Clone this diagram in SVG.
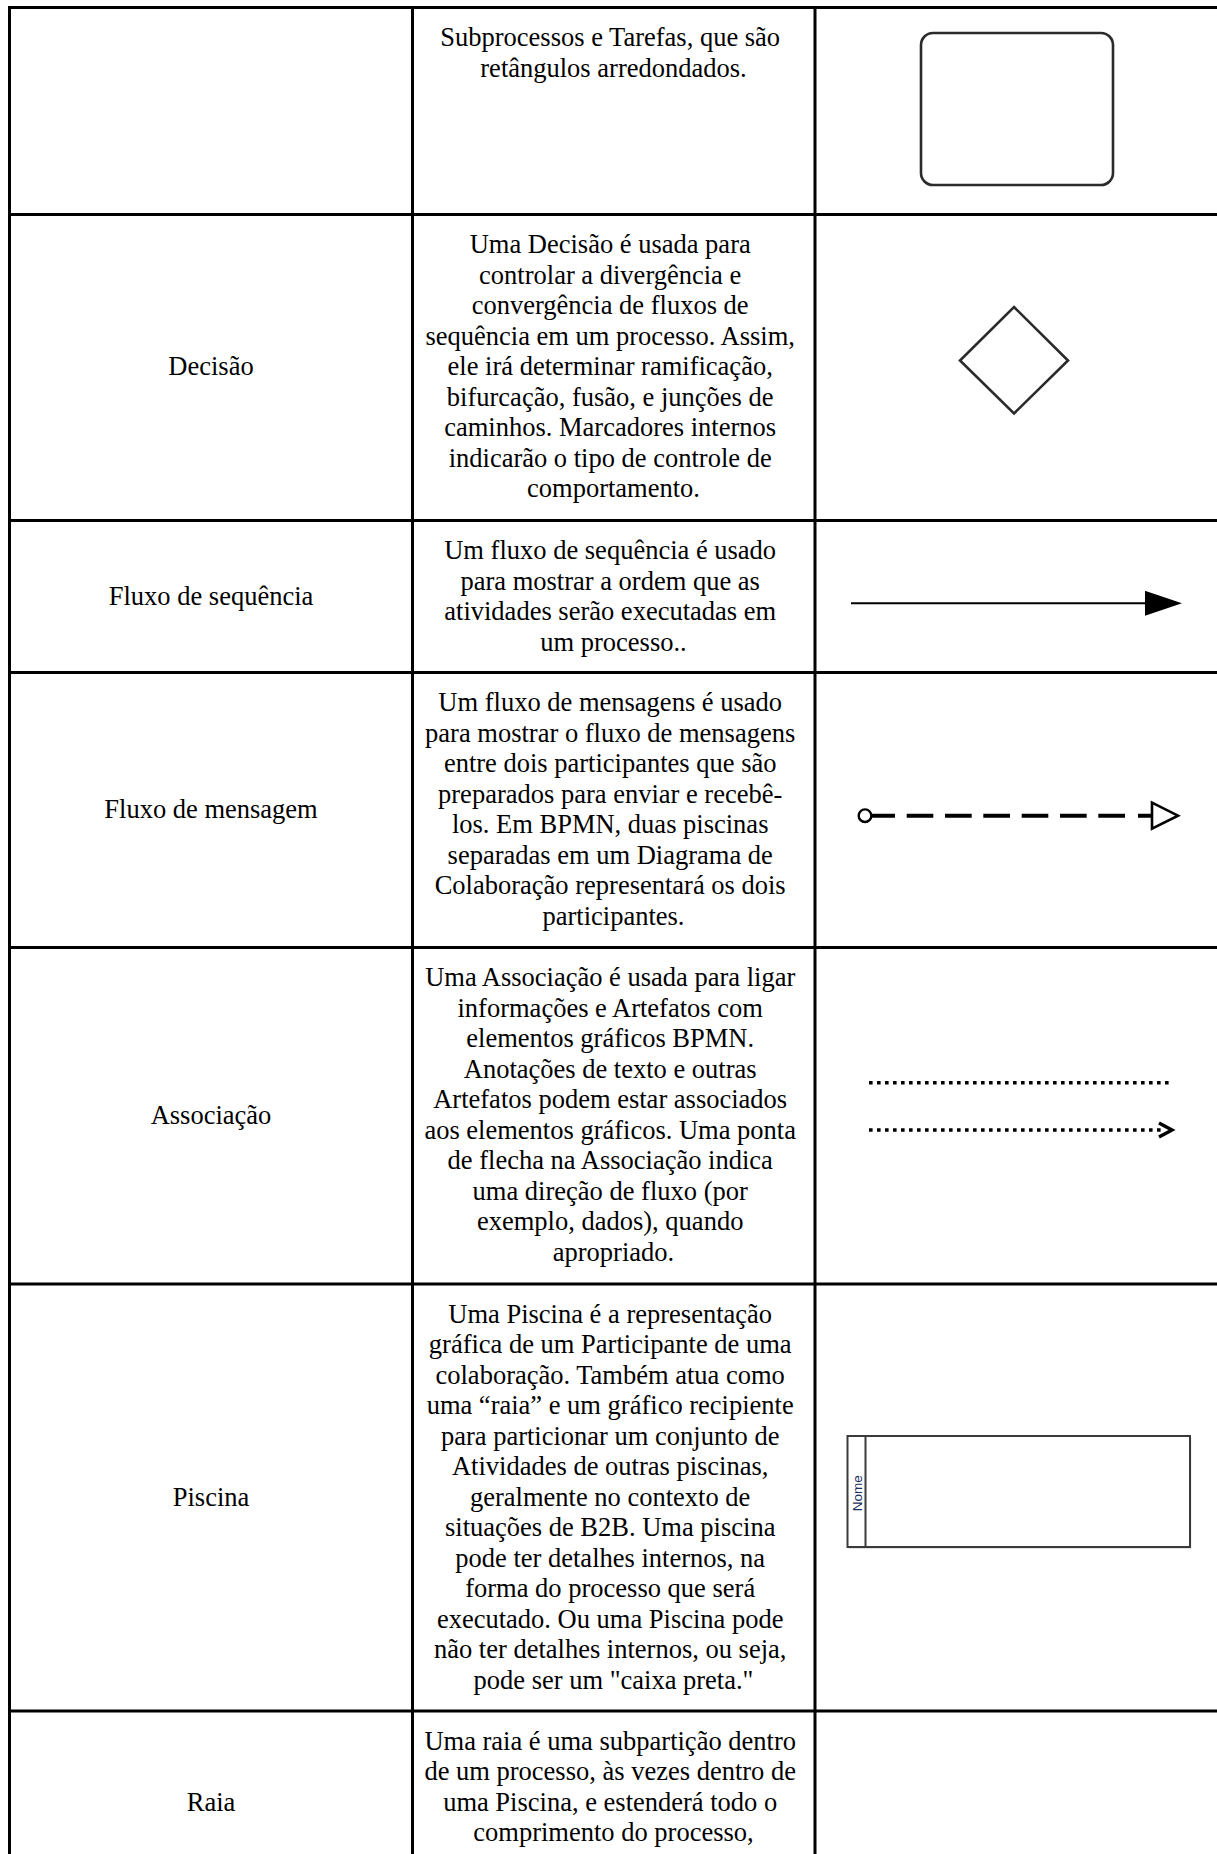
<svg xmlns="http://www.w3.org/2000/svg" width="1217" height="1854" viewBox="0 0 1217 1854">
  <style>
    .grid { stroke: #000; stroke-width: 3; fill: none; }
    .txt { font-family: "Liberation Serif", "Times New Roman", serif; font-size: 26.5px; fill: #000; text-anchor: middle; }
    .shape { fill: #fff; stroke: #2b2b2b; stroke-width: 2.6; }
    .ink { stroke: #000; fill: none; }
  </style>
  <defs>
    <marker id="seqHead" viewBox="0 0 37 25" refX="0" refY="12.5" markerWidth="37" markerHeight="25" markerUnits="userSpaceOnUse" orient="auto">
      <path d="M0 0 L37 12.5 L0 25 Z" fill="#000"/>
    </marker>
  </defs>
  <rect width="1217" height="1854" fill="#fff"/>

  <!-- table grid -->
  <g id="table-grid" class="grid">
    <line x1="8" y1="7.5" x2="1217" y2="7.5"/>
    <line x1="8" y1="214.5" x2="1217" y2="214.5"/>
    <line x1="8" y1="520.5" x2="1217" y2="520.5"/>
    <line x1="8" y1="672.5" x2="1217" y2="672.5"/>
    <line x1="8" y1="947.5" x2="1217" y2="947.5"/>
    <line x1="8" y1="1284" x2="1217" y2="1284"/>
    <line x1="8" y1="1711" x2="1217" y2="1711"/>
    <line x1="9.5" y1="6" x2="9.5" y2="1854"/>
    <line x1="412.5" y1="6" x2="412.5" y2="1854"/>
    <line x1="815" y1="6" x2="815" y2="1854"/>
  </g>

  <!-- row: task / subprocess -->
  <g id="row-tarefa">
    <text class="txt">
      <tspan x="613.5" y="46">Subprocessos e Tarefas, que são</tspan>
      <tspan x="613.5" y="76.5">retângulos arredondados.</tspan>
    </text>
    <rect class="shape" x="921" y="33" width="192" height="152" rx="12" ry="12"/>
  </g>

  <!-- row: gateway -->
  <g id="row-decisao">
    <text class="txt" x="211" y="375.3">Decisão</text>
    <text class="txt">
      <tspan x="613.5" y="253.3">Uma Decisão é usada para</tspan>
      <tspan x="613.5" y="283.8">controlar a divergência e</tspan>
      <tspan x="613.5" y="314.3">convergência de fluxos de</tspan>
      <tspan x="613.5" y="344.8">sequência em um processo. Assim,</tspan>
      <tspan x="613.5" y="375.3">ele irá determinar ramificação,</tspan>
      <tspan x="613.5" y="405.8">bifurcação, fusão, e junções de</tspan>
      <tspan x="613.5" y="436.3">caminhos. Marcadores internos</tspan>
      <tspan x="613.5" y="466.8">indicarão o tipo de controle de</tspan>
      <tspan x="613.5" y="497.3">comportamento.</tspan>
    </text>
    <path class="shape" fill="none" d="M1014 307 L1068 360.5 L1014 413.5 L960 360.5 Z" stroke-width="2.2"/>
  </g>

  <!-- row: sequence flow -->
  <g id="row-fluxo-sequencia">
    <text class="txt" x="211" y="605">Fluxo de sequência</text>
    <text class="txt">
      <tspan x="613.5" y="559.3">Um fluxo de sequência é usado</tspan>
      <tspan x="613.5" y="589.8">para mostrar a ordem que as</tspan>
      <tspan x="613.5" y="620.3">atividades serão executadas em</tspan>
      <tspan x="613.5" y="650.8">um processo..</tspan>
    </text>
    <line class="ink" x1="851" y1="603.3" x2="1145" y2="603.3" stroke-width="2" marker-end="url(#seqHead)"/>
  </g>

  <!-- row: message flow -->
  <g id="row-fluxo-mensagem">
    <text class="txt" x="211" y="818">Fluxo de mensagem</text>
    <text class="txt">
      <tspan x="613.5" y="711.3">Um fluxo de mensagens é usado</tspan>
      <tspan x="613.5" y="741.8">para mostrar o fluxo de mensagens</tspan>
      <tspan x="613.5" y="772.3">entre dois participantes que são</tspan>
      <tspan x="613.5" y="802.8">preparados para enviar e recebê-</tspan>
      <tspan x="613.5" y="833.3">los. Em BPMN, duas piscinas</tspan>
      <tspan x="613.5" y="863.8">separadas em um Diagrama de</tspan>
      <tspan x="613.5" y="894.3">Colaboração representará os dois</tspan>
      <tspan x="613.5" y="924.8">participantes.</tspan>
    </text>
    <circle cx="865" cy="815.7" r="6.3" fill="#fff" stroke="#000" stroke-width="2.4"/>
    <path class="ink" stroke-width="4" d="M871 815.7 H895 M906.7 815.7 H933.3 M945 815.7 H971.7 M983.3 815.7 H1010 M1021.7 815.7 H1048.3 M1060 815.7 H1086.7 M1098.3 815.7 H1125 M1138 815.7 H1152"/>
    <path d="M1152 802.7 L1178 815.7 L1152 828.7 Z" fill="#fff" stroke="#000" stroke-width="2.6" stroke-linejoin="miter"/>
  </g>

  <!-- row: association -->
  <g id="row-associacao">
    <text class="txt" x="211" y="1123.5">Associação</text>
    <text class="txt">
      <tspan x="613.5" y="986.3">Uma Associação é usada para ligar</tspan>
      <tspan x="613.5" y="1016.8">informações e Artefatos com</tspan>
      <tspan x="613.5" y="1047.3">elementos gráficos BPMN.</tspan>
      <tspan x="613.5" y="1077.8">Anotações de texto e outras</tspan>
      <tspan x="613.5" y="1108.3">Artefatos podem estar associados</tspan>
      <tspan x="613.5" y="1138.8">aos elementos gráficos. Uma ponta</tspan>
      <tspan x="613.5" y="1169.3">de flecha na Associação indica</tspan>
      <tspan x="613.5" y="1199.8">uma direção de fluxo (por</tspan>
      <tspan x="613.5" y="1230.3">exemplo, dados), quando</tspan>
      <tspan x="613.5" y="1260.8">apropriado.</tspan>
    </text>
    <line class="ink" x1="869" y1="1082.7" x2="1172" y2="1082.7" stroke-width="3.6" stroke-dasharray="3.6 4.4"/>
    <line class="ink" x1="869" y1="1130" x2="1162" y2="1130" stroke-width="3.6" stroke-dasharray="3.6 4.4"/>
    <path class="ink" stroke-width="3.4" d="M1159 1123 L1172 1130 L1159 1137"/>
  </g>

  <!-- row: pool -->
  <g id="row-piscina">
    <text class="txt" x="211" y="1505.8">Piscina</text>
    <text class="txt">
      <tspan x="613.5" y="1322.8">Uma Piscina é a representação</tspan>
      <tspan x="613.5" y="1353.3">gráfica de um Participante de uma</tspan>
      <tspan x="613.5" y="1383.8">colaboração. Também atua como</tspan>
      <tspan x="613.5" y="1414.3">uma “raia” e um gráfico recipiente</tspan>
      <tspan x="613.5" y="1444.8">para particionar um conjunto de</tspan>
      <tspan x="613.5" y="1475.3">Atividades de outras piscinas,</tspan>
      <tspan x="613.5" y="1505.8">geralmente no contexto de</tspan>
      <tspan x="613.5" y="1536.3">situações de B2B. Uma piscina</tspan>
      <tspan x="613.5" y="1566.8">pode ter detalhes internos, na</tspan>
      <tspan x="613.5" y="1597.3">forma do processo que será</tspan>
      <tspan x="613.5" y="1627.8">executado. Ou uma Piscina pode</tspan>
      <tspan x="613.5" y="1658.3">não ter detalhes internos, ou seja,</tspan>
      <tspan x="613.5" y="1688.8">pode ser um "caixa preta."</tspan>
    </text>
    <rect x="849" y="1438" width="342.5" height="111" fill="#c8c8c8" opacity="0.5"/>
    <rect x="847.5" y="1436" width="342.5" height="111" fill="#fff" stroke="#3a3a3a" stroke-width="2"/>
    <line x1="865.5" y1="1436" x2="865.5" y2="1547" stroke="#3a3a3a" stroke-width="2"/>
    <text transform="translate(861.5 1493.3) rotate(-90)" font-family="Liberation Sans, Arial, sans-serif" font-size="13.5" fill="#1c2f5a" text-anchor="middle">Nome</text>
  </g>

  <!-- row: lane -->
  <g id="row-raia">
    <text class="txt" x="211" y="1810.8">Raia</text>
    <text class="txt">
      <tspan x="613.5" y="1749.8">Uma raia é uma subpartição dentro</tspan>
      <tspan x="613.5" y="1780.3">de um processo, às vezes dentro de</tspan>
      <tspan x="613.5" y="1810.8">uma Piscina, e estenderá todo o</tspan>
      <tspan x="613.5" y="1841.3">comprimento do processo,</tspan>
    </text>
  </g>
</svg>
